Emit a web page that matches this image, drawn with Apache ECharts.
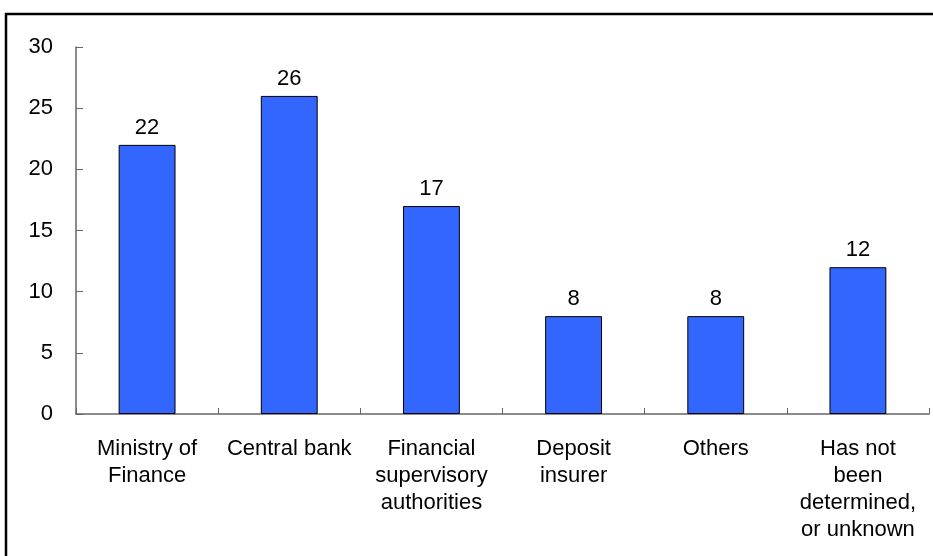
<!DOCTYPE html>
<html>
<head>
<meta charset="utf-8">
<script src="https://cdn.jsdelivr.net/npm/echarts@6/dist/echarts.min.js"></script>
<style>
html,body{margin:0;padding:0;background:#fff;}
#c{width:933px;height:556px;}
</style>
</head>
<body>
<div id="c"></div>
<script>
var categories = ['Ministry of\nFinance', 'Central bank', 'Financial\nsupervisory\nauthorities', 'Deposit\ninsurer', 'Others', 'Has not\nbeen\ndetermined,\nor unknown'];
var values = [22, 26, 17, 8, 8, 12];
var yTicks = [0, 5, 10, 15, 20, 25, 30];

var chart = echarts.init(document.getElementById('c'), null, {renderer: 'canvas'});
var font = '"Liberation Sans", Arial, sans-serif';
chart.setOption({
  animation: false,
  backgroundColor: '#ffffff',
  graphic: [{
    type: 'rect',
    shape: {x: 6, y: 14, width: 960, height: 600},
    style: {fill: 'none', stroke: '#000', lineWidth: 2.5},
    silent: true,
    z: 100
  }],
  grid: {left: 76, right: 4, top: 47, bottom: 142, containLabel: false},
  xAxis: {
    type: 'category',
    data: categories,
    boundaryGap: true,
    axisLine: {lineStyle: {color: '#666', width: 1.5}},
    axisTick: {show: true, inside: true, length: 6, lineStyle: {color: '#666'}},
    axisLabel: {
      interval: 0,
      color: '#000',
      fontSize: 22,
      fontFamily: font,
      lineHeight: 27,
      margin: 21,
      align: 'center'
    }
  },
  yAxis: {
    type: 'value',
    min: yTicks[0],
    max: yTicks[yTicks.length - 1],
    interval: 5,
    splitLine: {show: false},
    axisLine: {show: true, lineStyle: {color: '#666', width: 1.5}},
    axisTick: {show: true, inside: true, length: 7, lineStyle: {color: '#666'}},
    axisLabel: {color: '#000', fontSize: 22, fontFamily: font, margin: 23}
  },
  series: [{
    type: 'bar',
    data: values,
    barWidth: '40%',
    itemStyle: {color: '#3366FF', borderColor: '#000', borderWidth: 1},
    label: {
      show: true,
      position: 'top',
      distance: 6,
      color: '#000',
      fontSize: 22,
      fontFamily: font
    }
  }]
});
</script>
</body>
</html>
